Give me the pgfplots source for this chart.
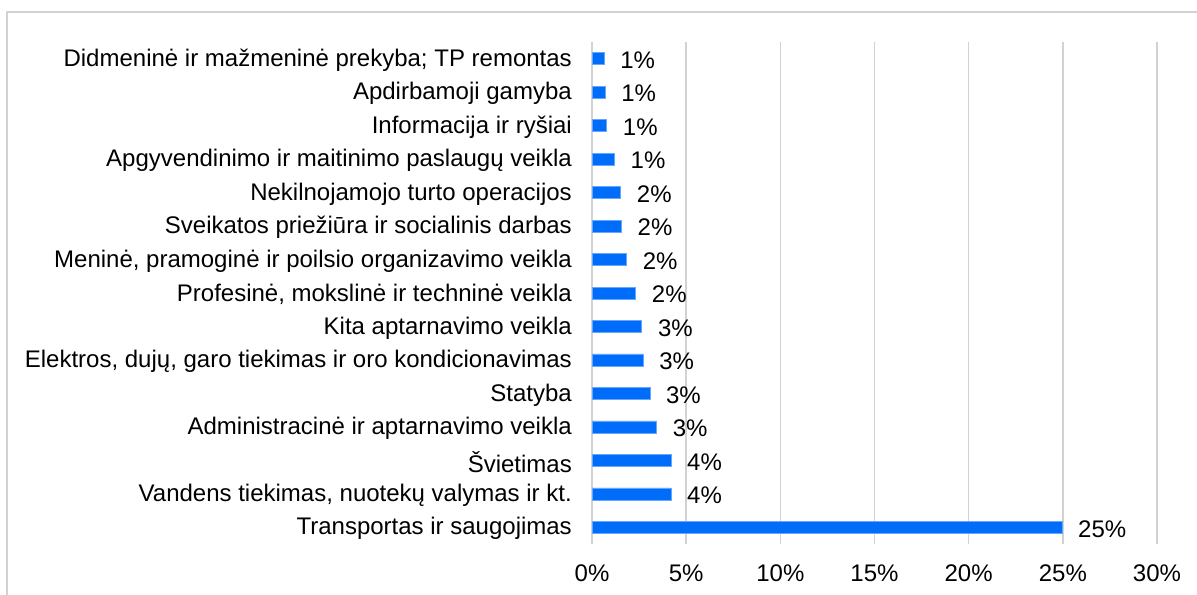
\documentclass[border=0pt]{standalone}
\usepackage{fontspec}
\setmainfont{Liberation Sans}
\usepackage{pgfplots}
\pgfplotsset{compat=1.18}

\definecolor{barblue}{RGB}{0,108,250}
\definecolor{gridgray}{RGB}{210,210,210}

\begin{document}
\fontsize{24bp}{28bp}\selectfont
\begin{tikzpicture}
\useasboundingbox (0,0) rectangle (1197bp,595bp);
% outer frame (only top and left edge visible)
\draw[gridgray, line width=1.5bp] (7bp,0bp) -- (7bp,583bp) -- (1197bp,583bp);
\begin{axis}[
    at={(592bp,51bp)}, anchor=south west,
    scale only axis,
    width=565bp, height=502bp,
    xbar,
    bar width=12bp,
    xmin=0, xmax=30,
    ymin=-0.5, ymax=14.5,
    y dir=reverse,
    ytick={0,...,14},
    yticklabels={
        Didmeninė ir mažmeninė prekyba; TP remontas,
        Apdirbamoji gamyba,
        Informacija ir ryšiai,
        Apgyvendinimo ir maitinimo paslaugų veikla,
        Nekilnojamojo turto operacijos,
        Sveikatos priežiūra ir socialinis darbas,
        {Meninė, pramoginė ir poilsio organizavimo veikla},
        {Profesinė, mokslinė ir techninė veikla},
        Kita aptarnavimo veikla,
        {Elektros, dujų, garo tiekimas ir oro kondicionavimas},
        Statyba,
        Administracinė ir aptarnavimo veikla,
        Švietimas,
        {Vandens tiekimas, nuotekų valymas ir kt.},
        Transportas ir saugojimas},
    xtick={0,5,...,30},
    xticklabel={\pgfmathprintnumber{\tick}\%},
    /pgf/number format/assume math mode=true,
    xmajorgrids=true,
    grid style={gridgray, line width=1.6bp},
    axis line style={draw=none},
    major tick length=0pt,
    tick label style={font=\fontsize{24bp}{28bp}\selectfont, text=black},
    xticklabel style={yshift=-13bp},
    yticklabel style={xshift=-12bp, yshift=-1.5bp},
    nodes near coords={\pgfmathprintnumber[fixed,precision=0]{\pgfplotspointmeta}\%},
    every node near coord/.append style={font=\fontsize{24bp}{28bp}\selectfont, text=black, anchor=west, inner sep=0pt, xshift=16bp, yshift=-1.5bp},
]
\addplot[fill=barblue, draw=barblue!60!white, line width=0.6bp] coordinates {
    (0.64,0)
    (0.69,1)
    (0.78,2)
    (1.19,3)
    (1.52,4)
    (1.56,5)
    (1.83,6)
    (2.32,7)
    (2.64,8)
    (2.71,9)
    (3.07,10)
    (3.43,11)
    (4.19,12)
    (4.19,13)
    (24.95,14)
};
\end{axis}
\end{tikzpicture}
\end{document}
